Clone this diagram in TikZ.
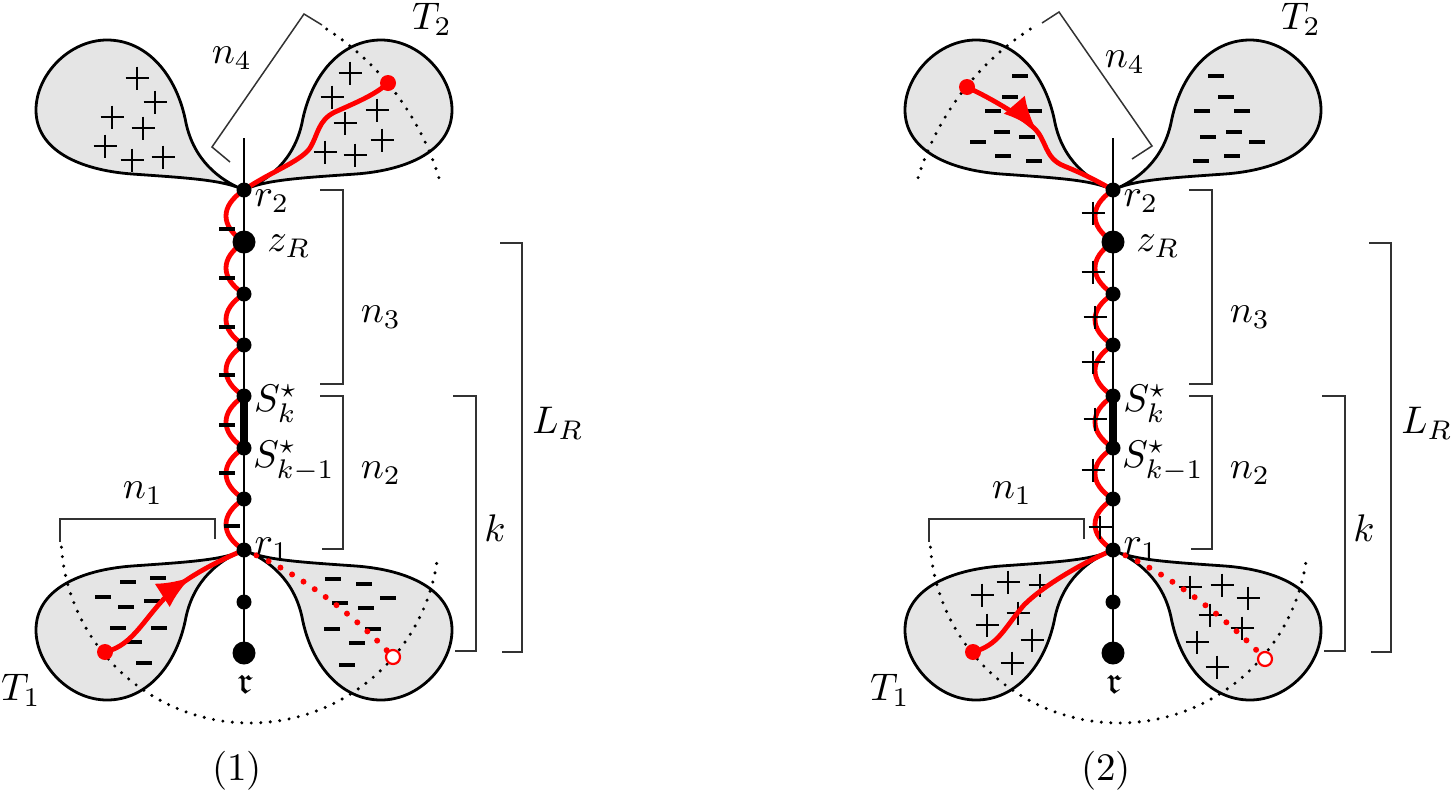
\documentclass[tikz,border=0pt]{standalone}
\usepackage{amsmath,amssymb}
\usetikzlibrary{arrows.meta,decorations.markings}
\definecolor{lobegray}{RGB}{229,229,229}
\definecolor{pathred}{RGB}{255,0,0}
\definecolor{brkgray}{RGB}{50,50,50}
\newcommand\lobepath{(0,0) .. controls (-20,10) and (-55,12) .. (-112,16) .. controls (-165,20) and (-208,40) .. (-208,80) .. controls (-208,115) and (-175,150) .. (-137,150) .. controls (-97,150) and (-67,115) .. (-58,67) .. controls (-50,30) and (-25,10) .. (0,0) -- cycle}
\tikzset{
 lobe/.style={draw=black, line width=2.8pt, fill=lobegray, line join=round},
 spine/.style={line width=2.8pt},
 thickseg/.style={line width=8pt},
 brk/.style={draw=brkgray, line width=1.5pt},
 dotarc/.style={line width=3.4pt, dash pattern=on 0pt off 9.5pt, line cap=round},
 redline/.style={draw=pathred, line width=4.8pt, line cap=round, line join=round},
 reddots/.style={draw=pathred, line width=6pt, dash pattern=on 0pt off 13.5pt, line cap=round},
 sdot/.style={circle, fill=black, inner sep=0pt, minimum size=15pt},
 bdot/.style={circle, fill=black, inner sep=0pt, minimum size=23pt},
 rdot/.style={circle, fill=pathred, inner sep=0pt, minimum size=16pt},
 odot/.style={circle, draw=pathred, fill=white, line width=2.2pt, inner sep=0pt, minimum size=14pt},
 txt/.style={scale=3.85, inner sep=0pt},
 paneltxt/.style={scale=3.9, inner sep=0pt},
 mbar/.pic={\draw[line width=4pt] (-8,0) -- (8,0);},
 pcross/.pic={\draw[line width=2pt] (-11.5,0) -- (11.5,0) (0,-11.5) -- (0,11.5);},
 midarrow/.style={postaction={decorate, decoration={markings, mark=at position #1 with {\arrow{Latex[length=34pt,width=28pt]}}}}},
}
\begin{document}
\begin{tikzpicture}[x=1pt,y=-1pt]
\useasboundingbox (0,0) rectangle (1456,793);

% ================= LEFT PANEL =================
\coordinate (Ltop) at (244,138);
\coordinate (Lr2) at (244,190);
\coordinate (LzR) at (244,242);
\coordinate (La1) at (244,294);
\coordinate (La2) at (244,345);
\coordinate (Lsk) at (244,396);
\coordinate (Lsk1) at (244,448);
\coordinate (La3) at (244,499);
\coordinate (Lr1) at (244,550);
\coordinate (La4) at (244,602);
\coordinate (Lrt) at (244,653);
\coordinate (Lp2) at (388,83);
\coordinate (Lq1) at (105,652);
\coordinate (Lo1) at (393,657);

\begin{scope}[shift={(244,550)}] \path[lobe] \lobepath; \end{scope}
\begin{scope}[shift={(244,550)},xscale=-1] \path[lobe] \lobepath; \end{scope}
\begin{scope}[shift={(244,190)},yscale=-1] \path[lobe] \lobepath; \end{scope}
\begin{scope}[shift={(244,190)},xscale=-1,yscale=-1] \path[lobe] \lobepath; \end{scope}

% signs in lobes
\foreach \p in {(137,78),(155,102),(112,117),(143,128),(105,146),(132,160),(163,157),
  (350,73),(332,97),(377,110),(345,123),(325,152),(355,155),(382,140)}
  \pic at \p {pcross};
\foreach \p in {(128,582),(158,578),(103,597),(152,601),(126,607),(118,628),(159,628),(134,642),(144,663),
  (333,579),(364,584),(388,598),(340,603),(366,608),(332,629),(373,629),(357,643),(347,665)}
  \pic at \p {mbar};

% dotted arcs
\draw[dotarc] (250,534) ++(176:189) arc[start angle=176, end angle=8, radius=189];
\draw[dotarc] (178,258) ++(-57:273) arc[start angle=-57, end angle=-16, radius=273];

% brackets
\draw[brk] (60,542) -- (60,519) -- (215,519) -- (215,539);
\draw[brk] (320,190) -- (343,190) -- (343,384) -- (320,384);
\draw[brk] (320,396) -- (343,396) -- (343,549) -- (322,549);
\draw[brk] (453,396) -- (476,396) -- (476,651) -- (455,651);
\draw[brk] (500,243) -- (522,243) -- (522,652) -- (502,652);
\draw[brk] (230,162) -- (212,147) -- (304,14) -- (322,25);

% spine
\draw[spine] (Ltop) -- (Lrt);
\draw[thickseg] (Lsk) -- (Lsk1);

% red paths
\draw[redline] (Lr2) .. controls (220,206) and (220,226) .. (LzR)
  .. controls (220,258) and (220,278) .. (La1)
  .. controls (220,309) and (220,330) .. (La2)
  .. controls (220,360) and (220,381) .. (Lsk)
  .. controls (220,412) and (220,432) .. (Lsk1)
  .. controls (220,463) and (220,484) .. (La3)
  .. controls (220,514) and (220,535) .. (Lr1);
\draw[redline] (Lr2) .. controls (270,172) and (300,162) .. (310,148)
  .. controls (318,135) and (318,120) .. (335,112)
  .. controls (355,103) and (375,95) .. (Lp2);
\draw[redline, midarrow=0.66] (Lq1) .. controls (135,645) and (145,615) .. (173,590)
  .. controls (195,572) and (225,558) .. (Lr1);
\draw[reddots] (Lr1) .. controls (290,568) and (350,610) .. (Lo1);

% dots
\node[sdot] (Lr2d) at (Lr2) {};
\node[bdot] (LzRd) at (LzR) {};
\node[sdot] (La1d) at (La1) {};
\node[sdot] (La2d) at (La2) {};
\node[sdot] (Lskd) at (Lsk) {};
\node[sdot] (Lsk1d) at (Lsk1) {};
\node[sdot] (La3d) at (La3) {};
\node[sdot] (Lr1d) at (Lr1) {};
\node[sdot] (La4d) at (La4) {};
\node[bdot] (Lrtd) at (Lrt) {};
\node[rdot] (Lp2d) at (Lp2) {};
\node[rdot] (Lq1d) at (Lq1) {};
\node[odot] (Lo1d) at (Lo1) {};

% spine signs
\foreach \p in {(227,229),(227,278),(227,327),(227,375),(227,425),(227,473),(232,526)}
  \pic at \p {mbar};

% labels
\node[txt] (Llr2) at (272,201) {$r_2$};
\node[txt] (LlzR) at (289,246) {$z_R$};
\node[txt] (Llsk) at (276,404) {$S_k^\star$};
\node[txt] (Llsk1) at (294,461) {$S_{k-1}^\star$};
\node[txt] (Llr1) at (272,549) {$r_1$};
\node[txt] (Llrt) at (245,684) {$\mathfrak{r}$};
\node[txt] (Ln1) at (143,493) {$n_1$};
\node[txt] (Ln2) at (381,473) {$n_2$};
\node[txt] (Ln3) at (381,317) {$n_3$};
\node[txt] (Ln4) at (232,58) {$n_4$};
\node[txt] (Lk) at (495,528) {$k$};
\node[txt] (LLR) at (558,423) {$L_R$};
\node[txt] (LT1) at (21,690) {$T_1$};
\node[txt] (LT2) at (432,19) {$T_2$};
\node[paneltxt] (Lcap) at (237,771) {(1)};

% ================= RIGHT PANEL =================
\begin{scope}[shift={(869,0)}]
\coordinate (Rtop) at (244,138);
\coordinate (Rr2) at (244,190);
\coordinate (RzR) at (244,242);
\coordinate (Ra1) at (244,294);
\coordinate (Ra2) at (244,345);
\coordinate (Rsk) at (244,396);
\coordinate (Rsk1) at (244,448);
\coordinate (Ra3) at (244,499);
\coordinate (Rr1) at (244,550);
\coordinate (Ra4) at (244,602);
\coordinate (Rrt) at (244,653);
\coordinate (Rp2) at (98,87);
\coordinate (Rq1) at (104,652);
\coordinate (Ro1) at (396,659);

\begin{scope}[shift={(244,550)}] \path[lobe] \lobepath; \end{scope}
\begin{scope}[shift={(244,550)},xscale=-1] \path[lobe] \lobepath; \end{scope}
\begin{scope}[shift={(244,190)},yscale=-1] \path[lobe] \lobepath; \end{scope}
\begin{scope}[shift={(244,190)},xscale=-1,yscale=-1] \path[lobe] \lobepath; \end{scope}

\foreach \p in {(151,76),(141,97),(124,111),(165,111),(133,132),(158,137),(109,142),(134,156),(165,161),
  (347,76),(357,97),(333,111),(373,111),(339,137),(365,132),(388,142),(332,161),(363,156)}
  \pic at \p {mbar};
\foreach \p in {(139,582),(171,585),(113,595),(149,613),(118,625),(163,640),(143,663),
  (321,587),(353,585),(379,598),(341,615),(373,628),(328,642),(348,667)}
  \pic at \p {pcross};

\draw[dotarc] (250,534) ++(176:189) arc[start angle=176, end angle=8, radius=189];
\draw[dotarc] (310,258) ++(-123:273) arc[start angle=-123, end angle=-164, radius=273];

\draw[brk] (60,542) -- (60,519) -- (215,519) -- (215,539);
\draw[brk] (320,190) -- (343,190) -- (343,384) -- (320,384);
\draw[brk] (320,396) -- (343,396) -- (343,549) -- (322,549);
\draw[brk] (453,396) -- (476,396) -- (476,651) -- (455,651);
\draw[brk] (500,243) -- (522,243) -- (522,652) -- (502,652);
\draw[brk] (263,159) -- (283,146) -- (190,12) -- (173,23);

\draw[spine] (Rtop) -- (Rrt);
\draw[thickseg] (Rsk) -- (Rsk1);

\draw[redline] (Rr2) .. controls (220,206) and (220,226) .. (RzR)
  .. controls (220,258) and (220,278) .. (Ra1)
  .. controls (220,309) and (220,330) .. (Ra2)
  .. controls (220,360) and (220,381) .. (Rsk)
  .. controls (220,412) and (220,432) .. (Rsk1)
  .. controls (220,463) and (220,484) .. (Ra3)
  .. controls (220,514) and (220,535) .. (Rr1);
\draw[redline, midarrow=0.45] (Rp2) .. controls (125,100) and (150,115) .. (165,128)
  .. controls (178,140) and (175,158) .. (195,166)
  .. controls (215,174) and (230,182) .. (Rr2);
\draw[redline] (Rq1) .. controls (130,645) and (135,628) .. (155,605)
  .. controls (175,585) and (215,562) .. (Rr1);
\draw[reddots] (Rr1) .. controls (290,568) and (352,612) .. (Ro1);

\node[sdot] (Rr2d) at (Rr2) {};
\node[bdot] (RzRd) at (RzR) {};
\node[sdot] (Ra1d) at (Ra1) {};
\node[sdot] (Ra2d) at (Ra2) {};
\node[sdot] (Rskd) at (Rsk) {};
\node[sdot] (Rsk1d) at (Rsk1) {};
\node[sdot] (Ra3d) at (Ra3) {};
\node[sdot] (Rr1d) at (Rr1) {};
\node[sdot] (Ra4d) at (Ra4) {};
\node[bdot] (Rrtd) at (Rrt) {};
\node[rdot] (Rp2d) at (Rp2) {};
\node[rdot] (Rq1d) at (Rq1) {};
\node[odot] (Ro1d) at (Ro1) {};

\foreach \p in {(224,213),(224,272),(226,317),(224,362),(226,419),(224,470),(231,527)}
  \pic at \p {pcross};

\node[txt] (Rlr2) at (272,201) {$r_2$};
\node[txt] (RlzR) at (289,246) {$z_R$};
\node[txt] (Rlsk) at (276,404) {$S_k^\star$};
\node[txt] (Rlsk1) at (294,461) {$S_{k-1}^\star$};
\node[txt] (Rlr1) at (272,549) {$r_1$};
\node[txt] (Rlrt) at (245,684) {$\mathfrak{r}$};
\node[txt] (Rn1) at (143,493) {$n_1$};
\node[txt] (Rn2) at (381,473) {$n_2$};
\node[txt] (Rn3) at (381,317) {$n_3$};
\node[txt] (Rn4) at (256,62) {$n_4$};
\node[txt] (Rk) at (495,528) {$k$};
\node[txt] (RLR) at (558,423) {$L_R$};
\node[txt] (RT1) at (21,690) {$T_1$};
\node[txt] (RT2) at (432,19) {$T_2$};
\node[paneltxt] (Rcap) at (237,771) {(2)};
\end{scope}
\end{tikzpicture}
\end{document}
